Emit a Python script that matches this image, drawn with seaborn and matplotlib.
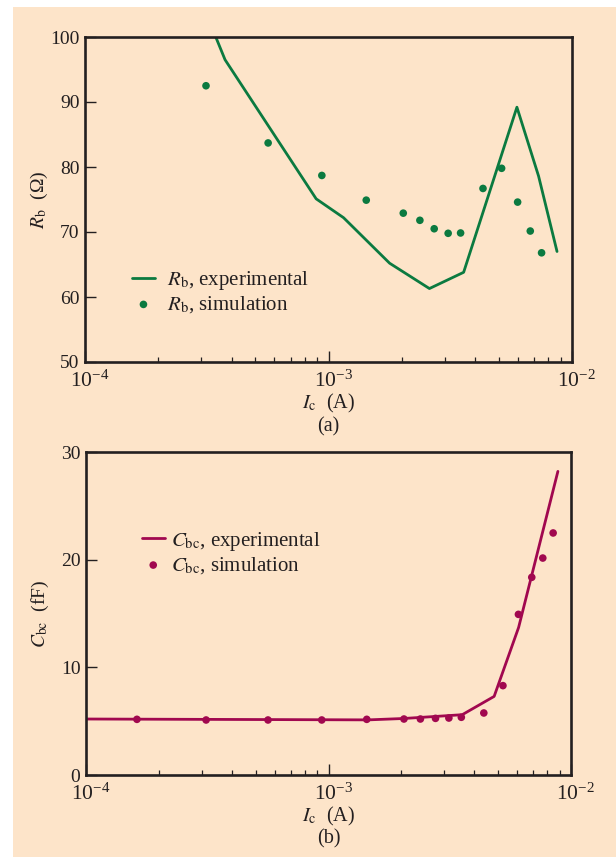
import matplotlib
matplotlib.use("Agg")
import matplotlib.pyplot as plt
from matplotlib.patches import Rectangle
from matplotlib.ticker import LogLocator, NullFormatter, FixedLocator
from matplotlib.transforms import ScaledTranslation
import pandas as pd
import seaborn as sns

# (a) base resistance versus collector current
rb_exp_ic = [3.35e-4, 3.76e-4, 8.90e-4, 1.153e-3, 1.782e-3, 2.597e-3, 3.589e-3, 5.94e-3, 7.29e-3, 8.68e-3]
rb_exp = [101.1, 96.5, 75.1, 72.2, 65.2, 61.3, 63.8, 89.2, 78.6, 67.0]
rb_sim_ic = [3.14e-4, 5.65e-4, 9.39e-4, 1.429e-3, 2.028e-3, 2.373e-3, 2.717e-3, 3.10e-3,
             3.487e-3, 4.31e-3, 5.14e-3, 5.98e-3, 6.74e-3, 7.50e-3]
rb_sim = [92.5, 83.7, 78.7, 74.9, 72.9, 71.8, 70.5, 69.8, 69.85, 76.7, 79.8, 74.6, 70.15, 66.8]

# (b) base-collector capacitance versus collector current
cbc_exp_ic = [1.0e-4, 1.46e-3, 2.05e-3, 3.56e-3, 4.82e-3, 6.08e-3, 8.83e-3]
cbc_exp = [5.2, 5.12, 5.25, 5.6, 7.3, 13.7, 28.2]
cbc_sim_ic = [1.622e-4, 3.128e-4, 5.63e-4, 9.38e-4, 1.438e-3, 2.047e-3, 2.393e-3, 2.762e-3,
              3.136e-3, 3.53e-3, 4.37e-3, 5.24e-3, 6.07e-3, 6.89e-3, 7.65e-3, 8.44e-3]
cbc_sim = [5.17, 5.11, 5.11, 5.11, 5.17, 5.2, 5.2, 5.26, 5.29, 5.36, 5.76, 8.3, 14.92, 18.36, 20.15, 22.48]

x_ticks = [1e-4, 1e-3, 1e-2]
rb_ticks = [50, 60, 70, 80, 90, 100]
cbc_ticks = [0, 10, 20, 30]

PEACH = "#FDE4C9"
GREEN = "#0B7A40"
MAROON = "#A1084F"
INK = "#231F20"

sns.set_theme(style="ticks")
plt.rcParams.update({
    "font.family": ["Liberation Serif", "DejaVu Serif"],
    "mathtext.fontset": "stix",
    "axes.edgecolor": INK,
    "axes.linewidth": 1.9,
    "text.color": INK,
    "axes.labelcolor": INK,
    "xtick.color": INK,
    "ytick.color": INK,
    "xtick.direction": "in",
    "ytick.direction": "in",
})

W, H = 616, 857
fig = plt.figure(figsize=(W / 100, H / 100), dpi=100, facecolor="white")
fig.add_artist(Rectangle((13 / W, 0), 1 - 13 / W, 1 - 7 / H, transform=fig.transFigure,
                         facecolor=PEACH, edgecolor="none", zorder=-10))

ax1 = fig.add_axes([85 / W, 1 - 362 / H, 487 / W, 325 / H])
ax2 = fig.add_axes([86 / W, 1 - 775 / H, 485 / W, 323 / H])

panels = [
    (ax1, rb_exp_ic, rb_exp, rb_sim_ic, rb_sim, GREEN, r"$R_{\mathrm{b}}$",
     r"$R_{\mathrm{b}}$  (Ω)", (50, 100), rb_ticks, "(a)", (0.0965, 0.215), 0.6),
    (ax2, cbc_exp_ic, cbc_exp, cbc_sim_ic, cbc_sim, MAROON, r"$C_{\mathrm{bc}}$",
     r"$C_{\mathrm{bc}}$  (fF)", (0, 30), cbc_ticks, "(b)", (0.115, 0.688), 0.3),
]

# nudge the decade labels so the mantissa "10" sits under its tick
nudge = ScaledTranslation(3.5 / 72, 0, fig.dpi_scale_trans)

for (ax, ex, ey, sx, sy, col, sym, ylab, ylim, yt, tag, legpos, hpad) in panels:
    ax.set_facecolor(PEACH)
    ax.set_xscale("log")
    exp_df = pd.DataFrame({"ic": ex, "val": ey})
    sim_df = pd.DataFrame({"ic": sx, "val": sy})
    sns.lineplot(data=exp_df, x="ic", y="val", ax=ax, color=col, linewidth=2.0,
                 label=sym + ", experimental", sort=False)
    sns.scatterplot(data=sim_df, x="ic", y="val", ax=ax, color=col, s=30,
                    edgecolor="none", label=sym + ", simulation", zorder=3)
    ax.set_xlim(1e-4, 1e-2)
    ax.set_ylim(*ylim)
    ax.xaxis.set_major_locator(FixedLocator(x_ticks))
    ax.xaxis.set_minor_locator(LogLocator(base=10, subs=range(2, 10)))
    ax.xaxis.set_minor_formatter(NullFormatter())
    ax.set_yticks(yt)
    ax.tick_params(axis="both", which="major", length=7.8, width=1.0)
    ax.tick_params(axis="y", which="major", pad=4, labelsize=14)
    ax.tick_params(axis="x", which="major", pad=6.5, labelsize=15.5)
    ax.tick_params(axis="x", which="minor", length=3.8, width=0.9)
    ax.tick_params(top=False, right=False, which="both")
    for lbl in ax.get_xticklabels():
        lbl.set_transform(lbl.get_transform() + nudge)
    for sp in ax.spines.values():
        sp.set_visible(True)
    ax.set_xlabel(r"$I_{\mathrm{c}}$  (A)", fontsize=14.5, labelpad=0)
    ax.set_ylabel(ylab, fontsize=14)
    ax.yaxis.set_label_coords(-0.072, 0.5)
    ax.text(0.5, -0.199, tag, transform=ax.transAxes, ha="center", va="center", fontsize=14.5)
    ax.legend(loc="center left", bbox_to_anchor=legpos, frameon=False, fontsize=15,
              borderpad=0, borderaxespad=0, handlelength=1.1, handletextpad=hpad,
              labelspacing=0.12, markerscale=1.0)

fig.savefig("out.png", dpi=100, facecolor="white")
